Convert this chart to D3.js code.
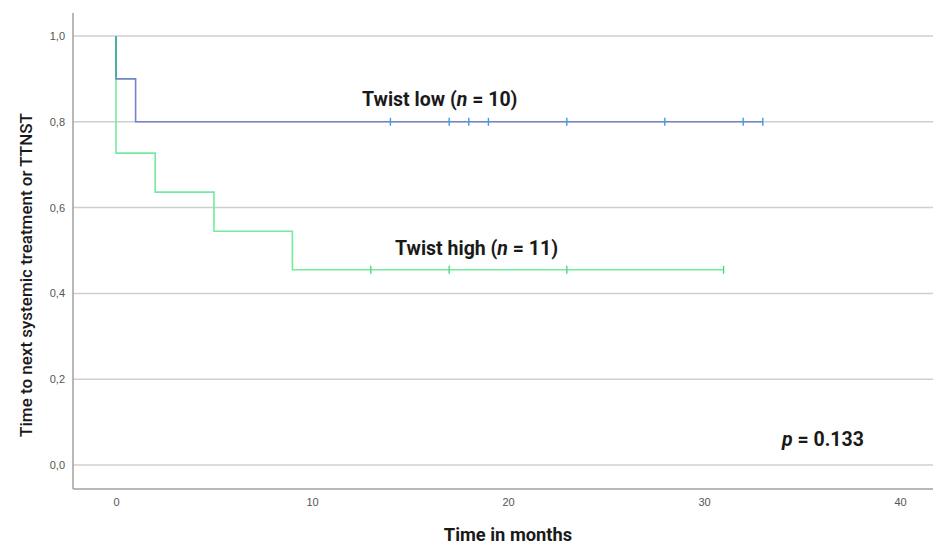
<!DOCTYPE html>
<html>
<head>
<meta charset="utf-8">
<script src="https://cdn.jsdelivr.net/npm/d3@7/dist/d3.min.js"></script>
<style>
  body { margin: 0; background: #fff; }
  text { font-family: Roboto, "Open Sans", sans-serif; }
</style>
</head>
<body>
<div id="chart"></div>
<script>
let w = 935, h = 544;

// KM step data
const lowTimes = [0, 0, 1, 33];
const lowSurv = [1.0, 0.9, 0.8, 0.8];
const lowCensor = [14, 17, 18, 19, 23, 28, 32, 33];

const highTimes = [0, 0, 2, 5, 9, 31];
const highSurv = [1.0, 0.727, 0.636, 0.545, 0.455, 0.455];
const highCensor = [13, 17, 23, 31];

const xTicks = [0, 10, 20, 30, 40];
const yTicks = [0, 0.2, 0.4, 0.6, 0.8, 1.0];

let svg = d3.select("#chart").append("svg")
    .attr("width", w)
    .attr("height", h);

let x = d3.scaleLinear().domain([0, 40]).range([116, 900]);
let y = d3.scaleLinear().domain([0, 1]).range([465, 36]);

let pLeft = 73, pRight = 933, pTop = 13, pBottom = 489;

// gridlines
svg.append("g").selectAll("line")
    .data(yTicks)
    .enter().append("line")
    .attr("x1", pLeft).attr("x2", pRight)
    .attr("y1", d => y(d)).attr("y2", d => y(d))
    .attr("stroke", "#cfcfcf")
    .attr("stroke-width", 1.5);

// axis frame lines
svg.append("line").attr("x1", pLeft).attr("x2", pLeft).attr("y1", pTop).attr("y2", pBottom)
    .attr("stroke", "#a0a0a0").attr("stroke-width", 1.5);
svg.append("line").attr("x1", pLeft).attr("x2", pRight).attr("y1", pBottom).attr("y2", pBottom)
    .attr("stroke", "#a0a0a0").attr("stroke-width", 1.5);

// tick labels via axes without tick lines
let xAxis = d3.axisBottom(x).tickValues(xTicks).tickSize(0).tickPadding(9);
let gx = svg.append("g").attr("transform", "translate(0," + pBottom + ")").call(xAxis);
let yAxis = d3.axisLeft(y).tickValues(yTicks).tickSize(0).tickPadding(8)
    .tickFormat(d => d3.format(".1f")(d).replace(".", ","));
let gy = svg.append("g").attr("transform", "translate(" + pLeft + ",0)").call(yAxis);
[gx, gy].forEach(g => {
  g.select(".domain").remove();
  g.selectAll("text").attr("fill", "#555").style("font-size", "11px")
    .style("font-family", "Arial, 'Liberation Sans', sans-serif");
});

const line = d3.line().x(d => x(d[0])).y(d => y(d[1])).curve(d3.curveStepAfter);

function drawCurve(times, surv, censor, lineColor, markColor) {
  let pts = times.map((t, i) => [t, surv[i]]);
  svg.append("path")
      .attr("d", line(pts))
      .attr("fill", "none")
      .attr("stroke", lineColor)
      .attr("stroke-width", 1.6);
  // survival at censor time
  let survAt = t => {
    let s = surv[0];
    times.forEach((tt, i) => { if (tt <= t) s = surv[i]; });
    return s;
  };
  let g = svg.append("g");
  censor.forEach(t => {
    g.append("line")
      .attr("x1", x(t)).attr("x2", x(t))
      .attr("y1", y(survAt(t)) - 4).attr("y2", y(survAt(t)) + 4)
      .attr("stroke", markColor).attr("stroke-width", 1.4);
  });
}

drawCurve(highTimes, highSurv, highCensor, "#72eb9c", "#4fd67e");
drawCurve(lowTimes, lowSurv, lowCensor, "#7283c9", "#3d9de3");

// overlap at t=0 looks teal
svg.append("line").attr("x1", x(0)).attr("x2", x(0)).attr("y1", y(1)).attr("y2", y(0.9))
    .attr("stroke", "#3fb99a").attr("stroke-width", 1.6);

// labels
function label(xp, yp, pre, it, post) {
  let t = svg.append("text").attr("x", xp).attr("y", yp)
      .style("font-size", "19.5px").style("font-weight", "bold").attr("fill", "#1a1a1a");
  t.append("tspan").text(pre);
  t.append("tspan").style("font-style", "italic").text(it);
  t.append("tspan").text(post);
}
label(362, 106, "Twist low (", "n", " = 10)");
label(395, 255, "Twist high (", "n", " = 11)");
label(782, 446, "", "p", " = 0.133");

svg.append("text")
    .attr("x", 508).attr("y", 541)
    .attr("text-anchor", "middle")
    .style("font-size", "18.3px").style("font-weight", "bold").attr("fill", "#1a1a1a")
    .text("Time in months");

svg.append("text")
    .attr("transform", "translate(32,275) rotate(-90)")
    .attr("text-anchor", "middle")
    .style("font-size", "17px").style("font-weight", "500").attr("fill", "#1a1a1a")
    .text("Time to next systemic treatment or TTNST");
</script>
</body>
</html>
